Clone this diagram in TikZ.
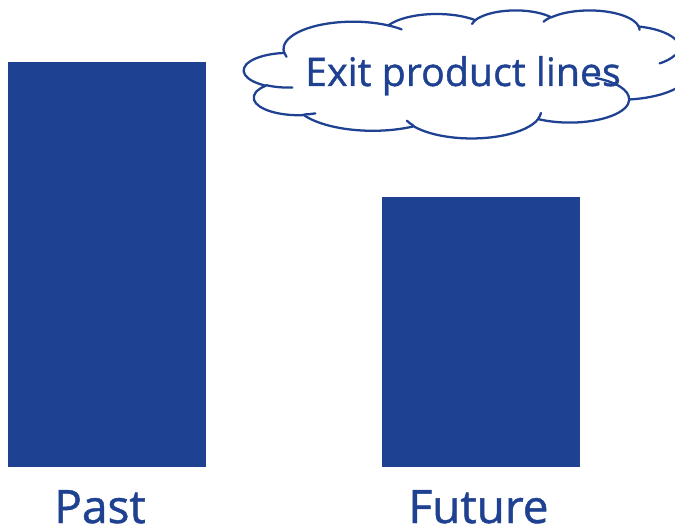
\documentclass[tikz,border=0pt]{standalone}
\usepackage{fontspec}
\setmainfont{Open Sans}[FakeBold=1]
\definecolor{gebl}{RGB}{31,65,145}
\newcommand\cldarc[4]{%
  \pgfmathsetmacro\cldA{atan2(#1*\cloudK*sin(#3),#2*cos(#3))}%
  \pgfmathsetmacro\cldB{atan2(#1*\cloudK*sin(#3+#4),#2*cos(#3+#4))}%
  \pgfmathsetmacro\cldB{\cldB+360*(\cldB<\cldA)}%
  \xdef\cloudpath{\cloudpath arc[start angle=\cldA,end angle=\cldB,x radius=#1,y radius=#2]}}
\newcommand\cldhint[6]{%
  \pgfmathsetmacro\cldA{atan2(#3*\cloudK*sin(#5),#4*cos(#5))}%
  \pgfmathsetmacro\cldB{atan2(#3*\cloudK*sin(#5+#6),#4*cos(#5+#6))}%
  \pgfmathsetmacro\cldB{\cldB+360*(\cldB<\cldA)}%
  \xdef\hintpath{\hintpath (#1,#2) arc[start angle=\cldA,end angle=\cldB,x radius=#3,y radius=#4]}}
\newcommand\cldbuild[1]{%
  \gdef\cloudK{#1}\gdef\cloudpath{}\gdef\hintpath{}%
  \cldarc{67.53}{91.90}{-190.4875}{123.7805}%
  \cldarc{53.33}{72.67}{-144.1024}{89.9452}%
  \cldarc{43.65}{59.45}{-145.8079}{99.7230}%
  \cldarc{48.57}{65.95}{-130.9861}{117.2417}%
  \cldarc{53.33}{72.73}{-78.7089}{109.0269}%
  \cldarc{67.75}{92.20}{-46.2673}{130.2690}%
  \cldarc{57.85}{78.67}{0.6250}{114.0333}%
  \cldarc{67.52}{92.15}{22.4516}{115.1726}%
  \cldarc{77.20}{105.43}{66.2426}{75.7110}%
  \cldarc{43.60}{59.18}{-274.9421}{146.7356}%
  \cldarc{43.45}{59.45}{-246.8285}{152.5189}%
  \cldhint{46.93}{261.77}{43.45}{59.45}{86.7420}{26.4295}%
  \cldhint{69.28}{348.99}{43.60}{59.18}{73.6105}{11.4475}%
  \cldhint{164.78}{390.90}{67.52}{92.15}{137.6242}{14.0811}%
  \cldhint{288.27}{347.51}{67.52}{92.15}{6.4533}{15.9984}%
  \cldhint{341.29}{229.54}{57.85}{78.67}{-70.2924}{70.9174}%
  \cldhint{417.98}{153.54}{53.33}{72.73}{30.3180}{27.7515}%
  \cldhint{383.24}{54.26}{48.57}{65.95}{-13.7443}{14.8589}%
  \cldhint{290.78}{39.52}{48.57}{65.95}{-149.1815}{18.1954}%
  \cldhint{221.41}{47.20}{43.65}{59.45}{-163.4943}{17.6864}%
  \cldhint{140.00}{51.92}{67.53}{91.90}{-66.7070}{12.3194}%
  \cldhint{41.27}{157.89}{67.53}{91.90}{157.6544}{11.8582}}
\begin{document}
\begin{tikzpicture}[x=0.75pt,y=-0.75pt,
  bar/.style={fill=gebl,draw=none},
  lbl/.style={text=gebl,anchor=base,inner sep=0pt,font=\fontsize{34.5}{40}\selectfont},
  cloudtxt/.style={text=gebl,anchor=base,inner sep=0pt,font=\fontsize{29.5}{35}\selectfont},
  cloudline/.style={draw=gebl,line width=1.7pt,line join=round,line cap=round}]
\useasboundingbox (0,0) rectangle (675,528);
\fill[bar] (8,62) rectangle (206,467);
\fill[bar] (382,197) rectangle (580,467);
\begin{scope}[xshift=183pt,yshift=-7.5pt,x=0.7726pt,y=-0.2222pt]
  \cldbuild{1}
  \draw[cloudline,fill=white] (39.00,143.70) \cloudpath -- cycle;
  \draw[cloudline] \hintpath;
\end{scope}
\node[cloudtxt] (exit) at (463,86) {Exit product lines};
\node[lbl] (past) at (100,523) {Past};
\node[lbl] (future) at (478.5,523) {Future};
\end{tikzpicture}
\end{document}
